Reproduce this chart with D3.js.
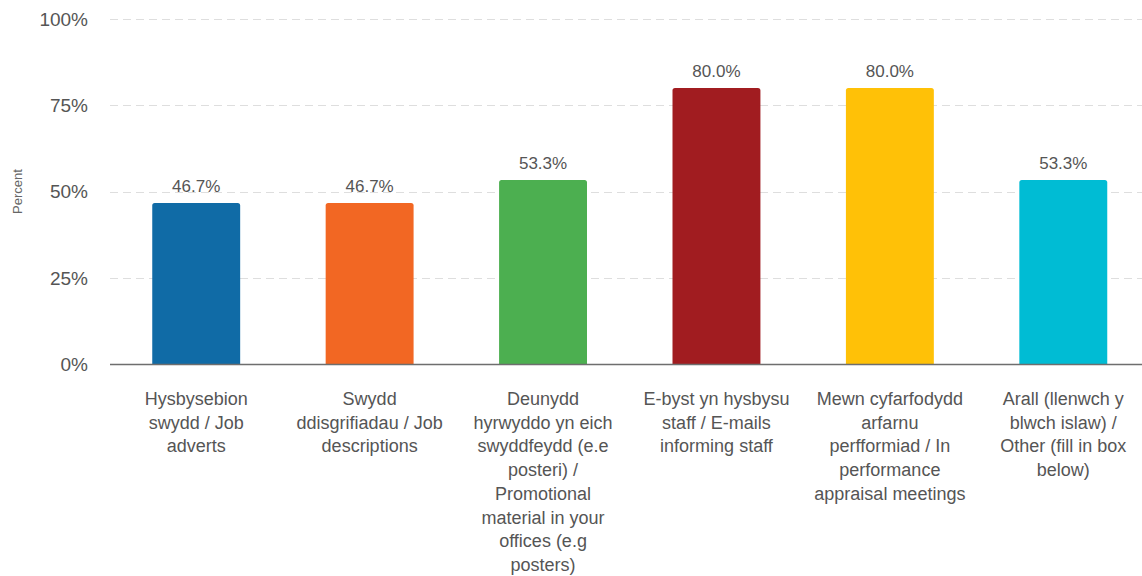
<!DOCTYPE html>
<html>
<head>
<meta charset="utf-8">
<script src="https://cdn.jsdelivr.net/npm/d3@7"></script>
<style>
  html, body { margin: 0; padding: 0; background: #fff; }
  svg { display: block; font-family: "Liberation Sans", Arial, sans-serif; }
</style>
</head>
<body>
<svg id="chart" width="1142" height="576"></svg>
<script>
const categories = [
  "Hysbysebion\nswydd / Job\nadverts",
  "Swydd\nddisgrifiadau / Job\ndescriptions",
  "Deunydd\nhyrwyddo yn eich\nswyddfeydd (e.e\nposteri) /\nPromotional\nmaterial in your\noffices (e.g\nposters)",
  "E-byst yn hysbysu\nstaff / E-mails\ninforming staff",
  "Mewn cyfarfodydd\narfarnu\nperfformiad / In\nperformance\nappraisal meetings",
  "Arall (llenwch y\nblwch islaw) /\nOther (fill in box\nbelow)"
];
const values = [46.7, 46.7, 53.3, 80.0, 80.0, 53.3];
const colors = ["#106ba6", "#f26723", "#4caf50", "#a11c20", "#ffc107", "#00bcd4"];
const yTicks = [0, 25, 50, 75, 100];
const yTitle = "Percent";

const svg = d3.select("#chart");
const W = 1142;
const plotLeft = 109.5, plotRight = 1150, plotTop = 19, plotBottom = 364;

const x = d3.scaleBand().domain(d3.range(categories.length)).range([plotLeft, plotRight]).padding(0);
const y = d3.scaleLinear().domain([0, 100]).range([plotBottom, plotTop]);
const barW = x.bandwidth() * 0.507;

// gridlines
svg.append("g").selectAll("line").data(yTicks.filter(d => d > 0)).join("line")
  .attr("x1", 110).attr("x2", W)
  .attr("y1", d => Math.round(y(d)) + 0.5).attr("y2", d => Math.round(y(d)) + 0.5)
  .attr("stroke", "#dedede").attr("stroke-width", 1).attr("stroke-dasharray", "8,5");

// y axis tick labels
const yAxis = d3.axisLeft(y).tickValues(yTicks).tickFormat(d => d + "%").tickSize(0).tickPadding(0);
const gy = svg.append("g").attr("transform", "translate(88,0)").call(yAxis);
gy.select(".domain").remove();
gy.selectAll("text").attr("font-size", 19).attr("fill", "#555").attr("font-family", "Liberation Sans, Arial, sans-serif").attr("dy", "0.34em");

// y title
svg.append("text").attr("transform", `translate(22,${(plotTop + plotBottom) / 2}) rotate(-90)`)
  .attr("text-anchor", "middle").attr("font-size", 13).attr("fill", "#666").text(yTitle);

// bars with rounded top corners
const r = 2.5;
svg.append("g").selectAll("path").data(values).join("path")
  .attr("fill", (d, i) => colors[i])
  .attr("d", (d, i) => {
    const cx = x(i) + x.bandwidth() / 2;
    const x0 = cx - barW / 2, x1 = cx + barW / 2;
    const y0 = y(d), yb = y(0);
    return `M${x0},${yb}V${y0 + r}Q${x0},${y0} ${x0 + r},${y0}H${x1 - r}Q${x1},${y0} ${x1},${y0 + r}V${yb}Z`;
  });

// value labels
svg.append("g").selectAll("text").data(values).join("text")
  .attr("x", (d, i) => x(i) + x.bandwidth() / 2)
  .attr("y", d => y(d) - 11)
  .attr("text-anchor", "middle").attr("font-size", 17).attr("fill", "#555")
  .text(d => d.toFixed(1) + "%");

// x axis line
svg.append("line").attr("x1", 110).attr("x2", W).attr("y1", plotBottom + 0.5).attr("y2", plotBottom + 0.5)
  .attr("stroke", "#6e6e6e").attr("stroke-width", 1.5);

// x axis labels
const xAxis = d3.axisBottom(x).tickSize(0).tickFormat("");
const gx = svg.append("g").attr("transform", `translate(0,${plotBottom})`).call(xAxis);
gx.select(".domain").remove();
gx.selectAll(".tick").each(function (d) {
  const t = d3.select(this).append("text").attr("text-anchor", "middle")
    .attr("font-size", 18).attr("fill", "#555").attr("y", 41);
  categories[d].split("\n").forEach((line, k) => {
    t.append("tspan").attr("x", 0).attr("dy", k === 0 ? 0 : 23.7).text(line);
  });
});
</script>
</body>
</html>
